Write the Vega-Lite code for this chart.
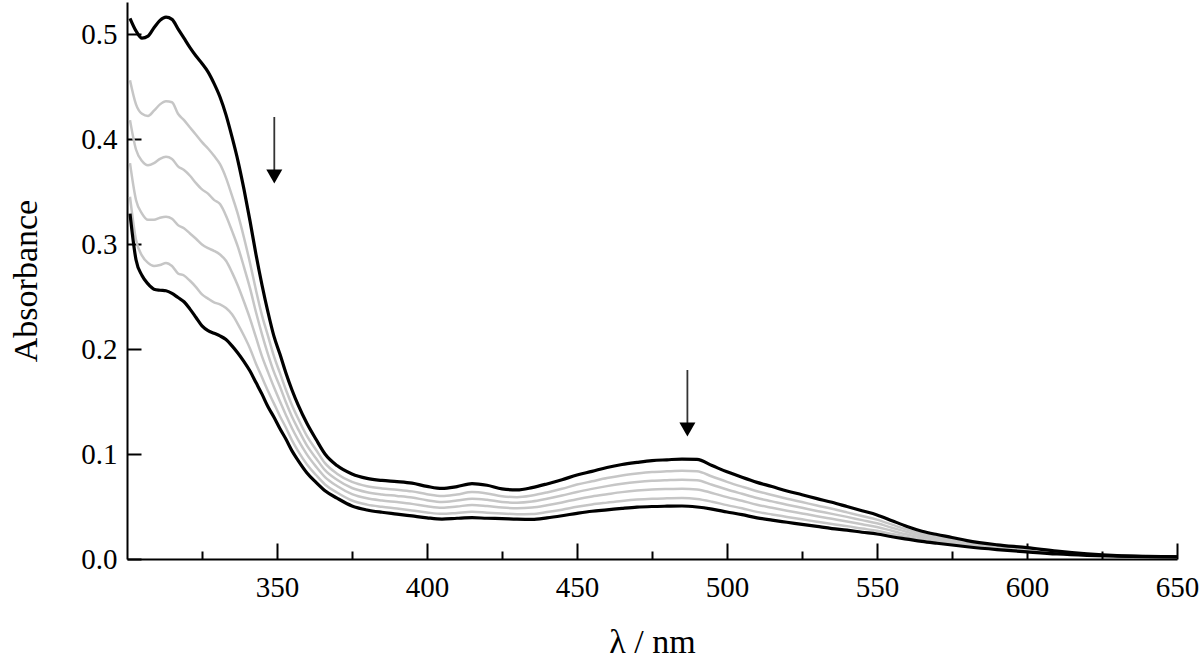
{
"$schema":"https://vega.github.io/schema/vega-lite/v6.json",
"width":1050,"height":557,"autosize":"none",
"padding":{"left":127,"top":2,"right":23,"bottom":103},
"background":"white",
"config":{"view":{"stroke":null},"font":"Liberation Serif"},
"datasets":{
"spectra":[
{"w":301,"s":"T","a":0.515},{"w":303,"s":"T","a":0.503},{"w":305,"s":"T","a":0.496},{"w":307,"s":"T","a":0.498},{"w":309,"s":"T","a":0.506},{"w":311,"s":"T","a":0.513},{"w":313,"s":"T","a":0.516},{"w":315,"s":"T","a":0.514},{"w":317,"s":"T","a":0.505},{"w":319,"s":"T","a":0.496},{"w":321,"s":"T","a":0.487},{"w":323,"s":"T","a":0.479},{"w":325,"s":"T","a":0.472},{"w":327,"s":"T","a":0.464},{"w":329,"s":"T","a":0.453},{"w":331,"s":"T","a":0.440},{"w":333,"s":"T","a":0.423},{"w":335,"s":"T","a":0.402},{"w":337,"s":"T","a":0.379},{"w":339,"s":"T","a":0.352},{"w":341,"s":"T","a":0.322},{"w":343,"s":"T","a":0.290},{"w":345,"s":"T","a":0.261},{"w":347,"s":"T","a":0.235},{"w":349,"s":"T","a":0.212},{"w":351,"s":"T","a":0.195},{"w":353,"s":"T","a":0.177},{"w":355,"s":"T","a":0.161},{"w":357,"s":"T","a":0.147},{"w":360,"s":"T","a":0.129},{"w":363,"s":"T","a":0.114},{"w":366,"s":"T","a":0.100},{"w":370,"s":"T","a":0.089},{"w":375,"s":"T","a":0.081},{"w":380,"s":"T","a":0.0768},{"w":385,"s":"T","a":0.0748},{"w":390,"s":"T","a":0.0737},{"w":395,"s":"T","a":0.0722},{"w":400,"s":"T","a":0.0692},{"w":405,"s":"T","a":0.0672},{"w":410,"s":"T","a":0.069},{"w":415,"s":"T","a":0.0718},{"w":420,"s":"T","a":0.0702},{"w":425,"s":"T","a":0.0668},{"w":430,"s":"T","a":0.0658},{"w":435,"s":"T","a":0.068},{"w":440,"s":"T","a":0.0715},{"w":445,"s":"T","a":0.0755},{"w":450,"s":"T","a":0.08},{"w":455,"s":"T","a":0.0835},{"w":460,"s":"T","a":0.0872},{"w":465,"s":"T","a":0.09},{"w":470,"s":"T","a":0.092},{"w":475,"s":"T","a":0.0937},{"w":480,"s":"T","a":0.0945},{"w":485,"s":"T","a":0.0952},{"w":490,"s":"T","a":0.0948},{"w":495,"s":"T","a":0.089},{"w":500,"s":"T","a":0.083},{"w":505,"s":"T","a":0.0778},{"w":510,"s":"T","a":0.073},{"w":515,"s":"T","a":0.069},{"w":520,"s":"T","a":0.0648},{"w":525,"s":"T","a":0.0612},{"w":530,"s":"T","a":0.0575},{"w":535,"s":"T","a":0.054},{"w":540,"s":"T","a":0.05},{"w":545,"s":"T","a":0.046},{"w":550,"s":"T","a":0.042},{"w":555,"s":"T","a":0.0365},{"w":560,"s":"T","a":0.031},{"w":565,"s":"T","a":0.0265},{"w":570,"s":"T","a":0.0233},{"w":575,"s":"T","a":0.0205},{"w":580,"s":"T","a":0.0175},{"w":590,"s":"T","a":0.0135},{"w":600,"s":"T","a":0.0108},{"w":610,"s":"T","a":0.0075},{"w":620,"s":"T","a":0.005},{"w":630,"s":"T","a":0.0033},{"w":640,"s":"T","a":0.0025},{"w":650,"s":"T","a":0.002},
{"w":301,"s":"G1","a":0.456},{"w":303,"s":"G1","a":0.433},{"w":305,"s":"G1","a":0.424},{"w":307,"s":"G1","a":0.422},{"w":309,"s":"G1","a":0.427},{"w":311,"s":"G1","a":0.433},{"w":313,"s":"G1","a":0.436},{"w":315,"s":"G1","a":0.435},{"w":317,"s":"G1","a":0.424},{"w":319,"s":"G1","a":0.418},{"w":321,"s":"G1","a":0.411},{"w":323,"s":"G1","a":0.404},{"w":325,"s":"G1","a":0.397},{"w":327,"s":"G1","a":0.391},{"w":329,"s":"G1","a":0.384},{"w":331,"s":"G1","a":0.376},{"w":333,"s":"G1","a":0.363},{"w":335,"s":"G1","a":0.346},{"w":337,"s":"G1","a":0.328},{"w":339,"s":"G1","a":0.306},{"w":341,"s":"G1","a":0.282},{"w":343,"s":"G1","a":0.256},{"w":345,"s":"G1","a":0.232},{"w":347,"s":"G1","a":0.2125},{"w":349,"s":"G1","a":0.193},{"w":351,"s":"G1","a":0.177},{"w":353,"s":"G1","a":0.161},{"w":355,"s":"G1","a":0.1465},{"w":357,"s":"G1","a":0.134},{"w":360,"s":"G1","a":0.117},{"w":363,"s":"G1","a":0.104},{"w":366,"s":"G1","a":0.0913},{"w":370,"s":"G1","a":0.0813},{"w":375,"s":"G1","a":0.0734},{"w":380,"s":"G1","a":0.0693},{"w":385,"s":"G1","a":0.0672},{"w":390,"s":"G1","a":0.066},{"w":395,"s":"G1","a":0.0644},{"w":400,"s":"G1","a":0.0617},{"w":405,"s":"G1","a":0.0599},{"w":410,"s":"G1","a":0.0615},{"w":415,"s":"G1","a":0.0637},{"w":420,"s":"G1","a":0.0624},{"w":425,"s":"G1","a":0.0597},{"w":430,"s":"G1","a":0.0589},{"w":435,"s":"G1","a":0.0605},{"w":440,"s":"G1","a":0.0634},{"w":445,"s":"G1","a":0.0669},{"w":450,"s":"G1","a":0.0709},{"w":455,"s":"G1","a":0.074},{"w":460,"s":"G1","a":0.0771},{"w":465,"s":"G1","a":0.0796},{"w":470,"s":"G1","a":0.0814},{"w":475,"s":"G1","a":0.0828},{"w":480,"s":"G1","a":0.0835},{"w":485,"s":"G1","a":0.084},{"w":490,"s":"G1","a":0.0835},{"w":495,"s":"G1","a":0.0786},{"w":500,"s":"G1","a":0.0735},{"w":505,"s":"G1","a":0.0689},{"w":510,"s":"G1","a":0.0646},{"w":515,"s":"G1","a":0.061},{"w":520,"s":"G1","a":0.0574},{"w":525,"s":"G1","a":0.0542},{"w":530,"s":"G1","a":0.0509},{"w":535,"s":"G1","a":0.0478},{"w":540,"s":"G1","a":0.0444},{"w":545,"s":"G1","a":0.0409},{"w":550,"s":"G1","a":0.0375},{"w":555,"s":"G1","a":0.0327},{"w":560,"s":"G1","a":0.028},{"w":565,"s":"G1","a":0.0241},{"w":570,"s":"G1","a":0.0212},{"w":575,"s":"G1","a":0.0187},{"w":580,"s":"G1","a":0.0161},{"w":590,"s":"G1","a":0.0124},{"w":600,"s":"G1","a":0.0098},{"w":610,"s":"G1","a":0.0068},{"w":620,"s":"G1","a":0.0046},{"w":630,"s":"G1","a":0.0031},{"w":640,"s":"G1","a":0.0024},{"w":650,"s":"G1","a":0.002},
{"w":301,"s":"G2","a":0.418},{"w":303,"s":"G2","a":0.390},{"w":305,"s":"G2","a":0.379},{"w":307,"s":"G2","a":0.375},{"w":309,"s":"G2","a":0.377},{"w":311,"s":"G2","a":0.381},{"w":313,"s":"G2","a":0.383},{"w":315,"s":"G2","a":0.381},{"w":317,"s":"G2","a":0.374},{"w":319,"s":"G2","a":0.3705},{"w":321,"s":"G2","a":0.365},{"w":323,"s":"G2","a":0.358},{"w":325,"s":"G2","a":0.352},{"w":327,"s":"G2","a":0.348},{"w":329,"s":"G2","a":0.342},{"w":331,"s":"G2","a":0.338},{"w":333,"s":"G2","a":0.327},{"w":335,"s":"G2","a":0.3125},{"w":337,"s":"G2","a":0.297},{"w":339,"s":"G2","a":0.278},{"w":341,"s":"G2","a":0.258},{"w":343,"s":"G2","a":0.235},{"w":345,"s":"G2","a":0.214},{"w":347,"s":"G2","a":0.195},{"w":349,"s":"G2","a":0.178},{"w":351,"s":"G2","a":0.164},{"w":353,"s":"G2","a":0.149},{"w":355,"s":"G2","a":0.1355},{"w":357,"s":"G2","a":0.124},{"w":360,"s":"G2","a":0.108},{"w":363,"s":"G2","a":0.096},{"w":366,"s":"G2","a":0.0846},{"w":370,"s":"G2","a":0.0754},{"w":375,"s":"G2","a":0.0676},{"w":380,"s":"G2","a":0.0636},{"w":385,"s":"G2","a":0.0615},{"w":390,"s":"G2","a":0.0601},{"w":395,"s":"G2","a":0.0585},{"w":400,"s":"G2","a":0.056},{"w":405,"s":"G2","a":0.0544},{"w":410,"s":"G2","a":0.0557},{"w":415,"s":"G2","a":0.0575},{"w":420,"s":"G2","a":0.0564},{"w":425,"s":"G2","a":0.0543},{"w":430,"s":"G2","a":0.0536},{"w":435,"s":"G2","a":0.0547},{"w":440,"s":"G2","a":0.0573},{"w":445,"s":"G2","a":0.0604},{"w":450,"s":"G2","a":0.0639},{"w":455,"s":"G2","a":0.0668},{"w":460,"s":"G2","a":0.0694},{"w":465,"s":"G2","a":0.0716},{"w":470,"s":"G2","a":0.0733},{"w":475,"s":"G2","a":0.0745},{"w":480,"s":"G2","a":0.0751},{"w":485,"s":"G2","a":0.0755},{"w":490,"s":"G2","a":0.0749},{"w":495,"s":"G2","a":0.0707},{"w":500,"s":"G2","a":0.0662},{"w":505,"s":"G2","a":0.0621},{"w":510,"s":"G2","a":0.0581},{"w":515,"s":"G2","a":0.0549},{"w":520,"s":"G2","a":0.0517},{"w":525,"s":"G2","a":0.0488},{"w":530,"s":"G2","a":0.0458},{"w":535,"s":"G2","a":0.043},{"w":540,"s":"G2","a":0.0401},{"w":545,"s":"G2","a":0.037},{"w":550,"s":"G2","a":0.034},{"w":555,"s":"G2","a":0.0298},{"w":560,"s":"G2","a":0.0257},{"w":565,"s":"G2","a":0.0222},{"w":570,"s":"G2","a":0.0196},{"w":575,"s":"G2","a":0.0173},{"w":580,"s":"G2","a":0.0149},{"w":590,"s":"G2","a":0.0115},{"w":600,"s":"G2","a":0.009},{"w":610,"s":"G2","a":0.0063},{"w":620,"s":"G2","a":0.0043},{"w":630,"s":"G2","a":0.003},{"w":640,"s":"G2","a":0.0024},{"w":650,"s":"G2","a":0.002},
{"w":301,"s":"G3","a":0.377},{"w":303,"s":"G3","a":0.342},{"w":305,"s":"G3","a":0.329},{"w":307,"s":"G3","a":0.323},{"w":309,"s":"G3","a":0.323},{"w":311,"s":"G3","a":0.325},{"w":313,"s":"G3","a":0.326},{"w":315,"s":"G3","a":0.324},{"w":317,"s":"G3","a":0.318},{"w":319,"s":"G3","a":0.315},{"w":321,"s":"G3","a":0.310},{"w":323,"s":"G3","a":0.305},{"w":325,"s":"G3","a":0.2995},{"w":327,"s":"G3","a":0.296},{"w":329,"s":"G3","a":0.2935},{"w":331,"s":"G3","a":0.290},{"w":333,"s":"G3","a":0.284},{"w":335,"s":"G3","a":0.273},{"w":337,"s":"G3","a":0.260},{"w":339,"s":"G3","a":0.245},{"w":341,"s":"G3","a":0.229},{"w":343,"s":"G3","a":0.211},{"w":345,"s":"G3","a":0.193},{"w":347,"s":"G3","a":0.178},{"w":349,"s":"G3","a":0.1635},{"w":351,"s":"G3","a":0.150},{"w":353,"s":"G3","a":0.137},{"w":355,"s":"G3","a":0.1245},{"w":357,"s":"G3","a":0.1136},{"w":360,"s":"G3","a":0.0994},{"w":363,"s":"G3","a":0.088},{"w":366,"s":"G3","a":0.078},{"w":370,"s":"G3","a":0.0695},{"w":375,"s":"G3","a":0.0618},{"w":380,"s":"G3","a":0.0578},{"w":385,"s":"G3","a":0.0557},{"w":390,"s":"G3","a":0.0542},{"w":395,"s":"G3","a":0.0525},{"w":400,"s":"G3","a":0.0503},{"w":405,"s":"G3","a":0.0488},{"w":410,"s":"G3","a":0.05},{"w":415,"s":"G3","a":0.0514},{"w":420,"s":"G3","a":0.0504},{"w":425,"s":"G3","a":0.049},{"w":430,"s":"G3","a":0.0483},{"w":435,"s":"G3","a":0.049},{"w":440,"s":"G3","a":0.0512},{"w":445,"s":"G3","a":0.0539},{"w":450,"s":"G3","a":0.057},{"w":455,"s":"G3","a":0.0596},{"w":460,"s":"G3","a":0.0617},{"w":465,"s":"G3","a":0.0637},{"w":470,"s":"G3","a":0.0652},{"w":475,"s":"G3","a":0.0662},{"w":480,"s":"G3","a":0.0667},{"w":485,"s":"G3","a":0.067},{"w":490,"s":"G3","a":0.0663},{"w":495,"s":"G3","a":0.0629},{"w":500,"s":"G3","a":0.0589},{"w":505,"s":"G3","a":0.0554},{"w":510,"s":"G3","a":0.0517},{"w":515,"s":"G3","a":0.0488},{"w":520,"s":"G3","a":0.046},{"w":525,"s":"G3","a":0.0434},{"w":530,"s":"G3","a":0.0408},{"w":535,"s":"G3","a":0.0383},{"w":540,"s":"G3","a":0.0358},{"w":545,"s":"G3","a":0.0331},{"w":550,"s":"G3","a":0.0305},{"w":555,"s":"G3","a":0.0269},{"w":560,"s":"G3","a":0.0234},{"w":565,"s":"G3","a":0.0204},{"w":570,"s":"G3","a":0.0181},{"w":575,"s":"G3","a":0.016},{"w":580,"s":"G3","a":0.0138},{"w":590,"s":"G3","a":0.0107},{"w":600,"s":"G3","a":0.0083},{"w":610,"s":"G3","a":0.0058},{"w":620,"s":"G3","a":0.0041},{"w":630,"s":"G3","a":0.0029},{"w":640,"s":"G3","a":0.0023},{"w":650,"s":"G3","a":0.002},
{"w":301,"s":"G4","a":0.345},{"w":303,"s":"G4","a":0.304},{"w":305,"s":"G4","a":0.289},{"w":307,"s":"G4","a":0.282},{"w":309,"s":"G4","a":0.279},{"w":311,"s":"G4","a":0.280},{"w":313,"s":"G4","a":0.282},{"w":315,"s":"G4","a":0.279},{"w":317,"s":"G4","a":0.272},{"w":319,"s":"G4","a":0.270},{"w":321,"s":"G4","a":0.265},{"w":323,"s":"G4","a":0.259},{"w":325,"s":"G4","a":0.252},{"w":327,"s":"G4","a":0.248},{"w":329,"s":"G4","a":0.2445},{"w":331,"s":"G4","a":0.2425},{"w":333,"s":"G4","a":0.239},{"w":335,"s":"G4","a":0.233},{"w":337,"s":"G4","a":0.2235},{"w":339,"s":"G4","a":0.2126},{"w":341,"s":"G4","a":0.2005},{"w":343,"s":"G4","a":0.186},{"w":345,"s":"G4","a":0.173},{"w":347,"s":"G4","a":0.160},{"w":349,"s":"G4","a":0.148},{"w":351,"s":"G4","a":0.136},{"w":353,"s":"G4","a":0.125},{"w":355,"s":"G4","a":0.113},{"w":357,"s":"G4","a":0.103},{"w":360,"s":"G4","a":0.090},{"w":363,"s":"G4","a":0.080},{"w":366,"s":"G4","a":0.071},{"w":370,"s":"G4","a":0.0633},{"w":375,"s":"G4","a":0.0557},{"w":380,"s":"G4","a":0.0518},{"w":385,"s":"G4","a":0.0497},{"w":390,"s":"G4","a":0.0481},{"w":395,"s":"G4","a":0.0463},{"w":400,"s":"G4","a":0.0443},{"w":405,"s":"G4","a":0.043},{"w":410,"s":"G4","a":0.0439},{"w":415,"s":"G4","a":0.0449},{"w":420,"s":"G4","a":0.0441},{"w":425,"s":"G4","a":0.0433},{"w":430,"s":"G4","a":0.0427},{"w":435,"s":"G4","a":0.0429},{"w":440,"s":"G4","a":0.0447},{"w":445,"s":"G4","a":0.047},{"w":450,"s":"G4","a":0.0497},{"w":455,"s":"G4","a":0.052},{"w":460,"s":"G4","a":0.0537},{"w":465,"s":"G4","a":0.0553},{"w":470,"s":"G4","a":0.0566},{"w":475,"s":"G4","a":0.0574},{"w":480,"s":"G4","a":0.0578},{"w":485,"s":"G4","a":0.0581},{"w":490,"s":"G4","a":0.0572},{"w":495,"s":"G4","a":0.0546},{"w":500,"s":"G4","a":0.0513},{"w":505,"s":"G4","a":0.0483},{"w":510,"s":"G4","a":0.0449},{"w":515,"s":"G4","a":0.0424},{"w":520,"s":"G4","a":0.0401},{"w":525,"s":"G4","a":0.0378},{"w":530,"s":"G4","a":0.0355},{"w":535,"s":"G4","a":0.0333},{"w":540,"s":"G4","a":0.0313},{"w":545,"s":"G4","a":0.029},{"w":550,"s":"G4","a":0.0269},{"w":555,"s":"G4","a":0.0238},{"w":560,"s":"G4","a":0.021},{"w":565,"s":"G4","a":0.0184},{"w":570,"s":"G4","a":0.0164},{"w":575,"s":"G4","a":0.0145},{"w":580,"s":"G4","a":0.0127},{"w":590,"s":"G4","a":0.0098},{"w":600,"s":"G4","a":0.0075},{"w":610,"s":"G4","a":0.0053},{"w":620,"s":"G4","a":0.0038},{"w":630,"s":"G4","a":0.0028},{"w":640,"s":"G4","a":0.0022},{"w":650,"s":"G4","a":0.002},
{"w":301,"s":"B","a":0.329},{"w":303,"s":"B","a":0.285},{"w":305,"s":"B","a":0.270},{"w":307,"s":"B","a":0.262},{"w":309,"s":"B","a":0.257},{"w":311,"s":"B","a":0.256},{"w":313,"s":"B","a":0.2555},{"w":315,"s":"B","a":0.253},{"w":317,"s":"B","a":0.249},{"w":319,"s":"B","a":0.245},{"w":321,"s":"B","a":0.238},{"w":323,"s":"B","a":0.230},{"w":325,"s":"B","a":0.222},{"w":327,"s":"B","a":0.2175},{"w":329,"s":"B","a":0.215},{"w":331,"s":"B","a":0.2125},{"w":333,"s":"B","a":0.209},{"w":335,"s":"B","a":0.203},{"w":337,"s":"B","a":0.196},{"w":339,"s":"B","a":0.188},{"w":341,"s":"B","a":0.179},{"w":343,"s":"B","a":0.168},{"w":345,"s":"B","a":0.157},{"w":347,"s":"B","a":0.145},{"w":349,"s":"B","a":0.135},{"w":351,"s":"B","a":0.124},{"w":353,"s":"B","a":0.114},{"w":355,"s":"B","a":0.103},{"w":357,"s":"B","a":0.094},{"w":360,"s":"B","a":0.082},{"w":363,"s":"B","a":0.073},{"w":366,"s":"B","a":0.065},{"w":370,"s":"B","a":0.058},{"w":375,"s":"B","a":0.0505},{"w":380,"s":"B","a":0.0467},{"w":385,"s":"B","a":0.0445},{"w":390,"s":"B","a":0.0428},{"w":395,"s":"B","a":0.041},{"w":400,"s":"B","a":0.0392},{"w":405,"s":"B","a":0.038},{"w":410,"s":"B","a":0.0388},{"w":415,"s":"B","a":0.0394},{"w":420,"s":"B","a":0.0388},{"w":425,"s":"B","a":0.0385},{"w":430,"s":"B","a":0.038},{"w":435,"s":"B","a":0.0378},{"w":440,"s":"B","a":0.0392},{"w":445,"s":"B","a":0.0412},{"w":450,"s":"B","a":0.0435},{"w":455,"s":"B","a":0.0455},{"w":460,"s":"B","a":0.0468},{"w":465,"s":"B","a":0.0482},{"w":470,"s":"B","a":0.0494},{"w":475,"s":"B","a":0.05},{"w":480,"s":"B","a":0.0503},{"w":485,"s":"B","a":0.0505},{"w":490,"s":"B","a":0.0495},{"w":495,"s":"B","a":0.0475},{"w":500,"s":"B","a":0.0448},{"w":505,"s":"B","a":0.0422},{"w":510,"s":"B","a":0.0392},{"w":515,"s":"B","a":0.037},{"w":520,"s":"B","a":0.035},{"w":525,"s":"B","a":0.033},{"w":530,"s":"B","a":0.031},{"w":535,"s":"B","a":0.029},{"w":540,"s":"B","a":0.0275},{"w":545,"s":"B","a":0.0255},{"w":550,"s":"B","a":0.0238},{"w":555,"s":"B","a":0.0212},{"w":560,"s":"B","a":0.019},{"w":565,"s":"B","a":0.0168},{"w":570,"s":"B","a":0.015},{"w":575,"s":"B","a":0.0133},{"w":580,"s":"B","a":0.0117},{"w":590,"s":"B","a":0.009},{"w":600,"s":"B","a":0.0068},{"w":610,"s":"B","a":0.0048},{"w":620,"s":"B","a":0.0035},{"w":630,"s":"B","a":0.0027},{"w":640,"s":"B","a":0.0022},{"w":650,"s":"B","a":0.002}
],
"arrows":[
{"w":349.1,"top":0.421,"bot":0.3686,"head":0.3643},
{"w":486.8,"top":0.18,"bot":0.1295,"head":0.1233}
]
},
"resolve":{"axis":{"x":"independent","y":"independent"}},
"layer":[
{"data":{"name":"spectra"},
 "transform":[{"filter":"datum.s !== 'T' && datum.s !== 'B'"}],
 "mark":{"type":"line","interpolate":"monotone","color":"#c6c6c6","strokeWidth":2.5},
 "encoding":{
  "x":{"field":"w","type":"quantitative","scale":{"domain":[300,650],"nice":false,"zero":false},
   "axis":{"orient":"bottom","values":[350,400,450,500,550,600,650],"title":"λ / nm","grid":false,"tickSize":-16,"tickWidth":2,"tickColor":"black","domainColor":"black","domainWidth":2,"labelFont":"Liberation Serif","labelFontSize":29,"labelColor":"black","labelBaseline":"alphabetic","labelPadding":53,"labelFlush":false,"labelOverlap":false,"titleFont":"Liberation Serif","titleFontSize":34,"titleFontWeight":"normal","titleColor":"black","titleY":93,"titleBaseline":"alphabetic"}},
  "y":{"field":"a","type":"quantitative","scale":{"domain":[0,0.5305],"nice":false,"zero":false},
   "axis":{"orient":"left","values":[0,0.1,0.2,0.3,0.4,0.5],"format":".1f","title":"Absorbance","grid":false,"tickSize":-14,"tickWidth":2,"tickColor":"black","domainColor":"black","domainWidth":2,"labelFont":"Liberation Serif","labelFontSize":29,"labelColor":"black","labelPadding":24,"labelBaseline":"middle","labelFlush":false,"labelOverlap":false,"titleFont":"Liberation Serif","titleFontSize":34,"titleFontWeight":"normal","titleColor":"black","titleAngle":270,"titleX":-91,"titleY":278.5,"titleBaseline":"alphabetic"}},
  "detail":{"field":"s","type":"nominal"}
 }},
{"data":{"name":"spectra"},
 "transform":[{"filter":"datum.s === 'T' || datum.s === 'B'"}],
 "mark":{"type":"line","interpolate":"monotone","color":"black","strokeWidth":3.2},
 "encoding":{
  "x":{"field":"w","type":"quantitative","axis":{"orient":"bottom","values":[325,375,425,475,525,575,625],"title":null,"grid":false,"labels":false,"domain":false,"tickSize":-8,"tickWidth":2,"tickColor":"black"}},
  "y":{"field":"a","type":"quantitative","axis":null},
  "detail":{"field":"s","type":"nominal"}
 }},
{"data":{"name":"arrows"},
 "mark":{"type":"rule","color":"#333333","strokeWidth":1.8},
 "encoding":{
  "x":{"field":"w","type":"quantitative","axis":null},
  "y":{"field":"top","type":"quantitative","axis":null},
  "y2":{"field":"bot"}
 }},
{"data":{"name":"arrows"},
 "mark":{"type":"point","shape":"triangle-down","filled":true,"color":"black","size":256,"opacity":1},
 "encoding":{
  "x":{"field":"w","type":"quantitative","axis":null},
  "y":{"field":"head","type":"quantitative","axis":null}
 }}
]
}
